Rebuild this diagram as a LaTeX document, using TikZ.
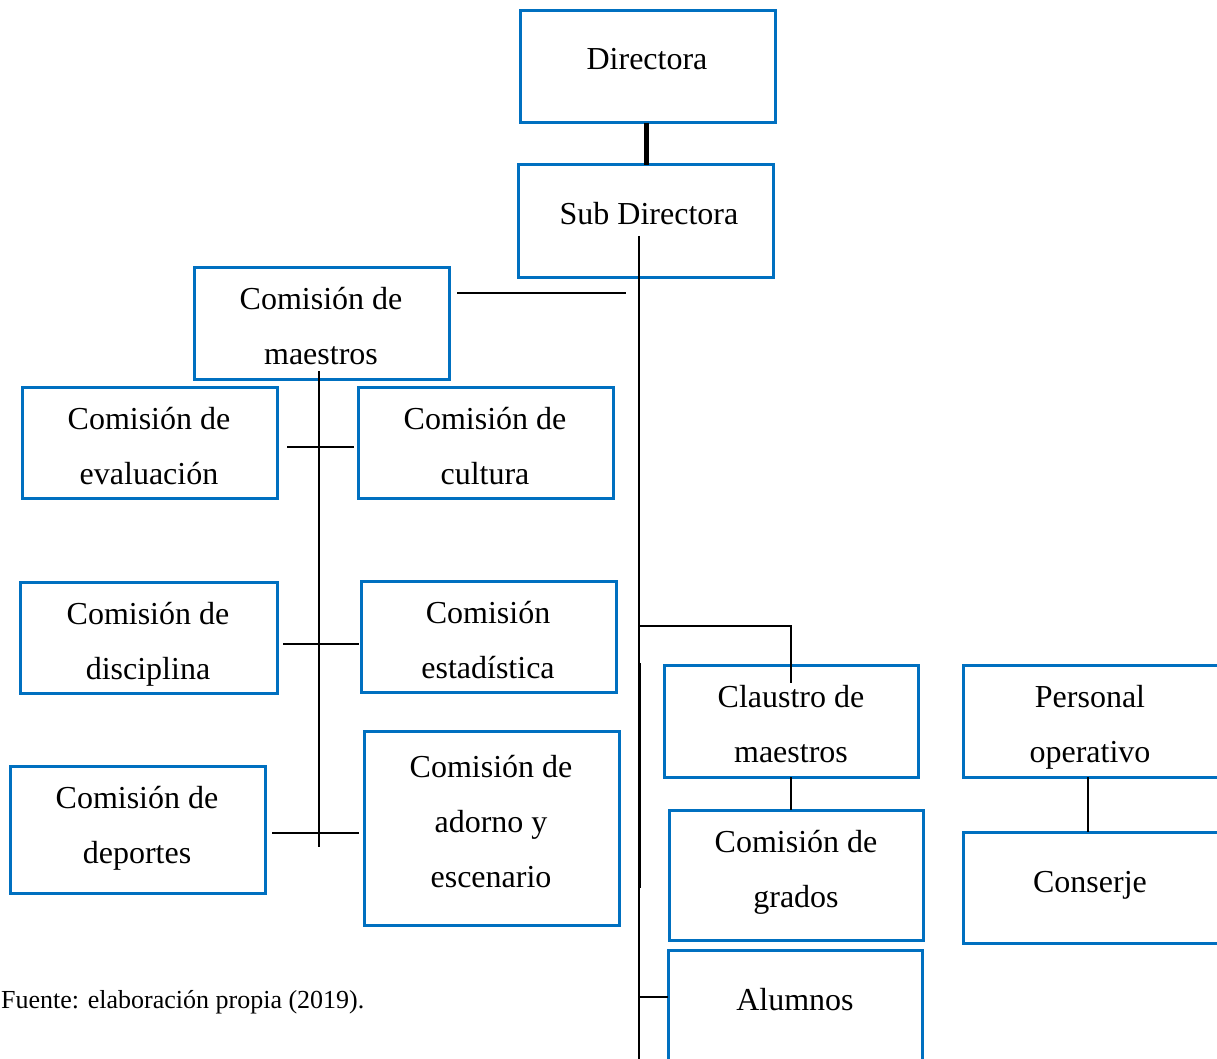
\documentclass[tikz,border=0pt]{standalone}
\usepackage{fontspec}
\setmainfont{Liberation Serif}
\definecolor{boxblue}{RGB}{0,112,192}
\begin{document}
\begin{tikzpicture}[x=1pt,y=-1pt,
  box/.style={draw=boxblue,line width=3pt,inner sep=0pt,rectangle},
  txt/.style={align=center,inner sep=0pt,font=\fontsize{32}{55}\selectfont},
  conn/.style={line width=1.1pt,black}]
\useasboundingbox (0,0) rectangle (1217,1059);
% boxes
\node[box,minimum width=255pt,minimum height=112pt] (dir) at (647.5,67) {};
\node[box,minimum width=255pt,minimum height=112pt] (sub) at (645.5,221) {};
\node[box,minimum width=255pt,minimum height=112pt] (mae) at (321.5,323) {};
\node[box,minimum width=255pt,minimum height=111pt] (eva) at (149.5,442.5) {};
\node[box,minimum width=255pt,minimum height=111pt] (cul) at (485.5,442.5) {};
\node[box,minimum width=257pt,minimum height=111pt] (dis) at (148.5,637.5) {};
\node[box,minimum width=255pt,minimum height=111pt] (est) at (488.5,636.5) {};
\node[box,minimum width=255pt,minimum height=127pt] (dep) at (137.5,829.5) {};
\node[box,minimum width=255pt,minimum height=194pt] (ado) at (491.5,828) {};
\node[box,minimum width=254pt,minimum height=112pt] (cla) at (791,721) {};
\node[box,minimum width=254pt,minimum height=130pt] (gra) at (796,875) {};
\node[box,minimum width=254pt,minimum height=120pt] (alu) at (795,1010) {};
\node[box,minimum width=255pt,minimum height=112pt] (per) at (1090.5,721) {};
\node[box,minimum width=255pt,minimum height=111pt] (con) at (1090.5,887.5) {};
% texts
\node[txt] (dirT) at (647,59) {Directora};
\node[txt] (subT) at (649,214) {Sub Directora};
\node[txt] (maeT) at (321,326.5) {Comisión de\\maestros};
\node[txt] (evaT) at (149,446.5) {Comisión de\\evaluación};
\node[txt] (culT) at (485,446) {Comisión de\\cultura};
\node[txt] (disT) at (148,644.5) {Comisión de\\disciplina};
\node[txt] (estT) at (488,640.5) {Comisión\\estadística};
\node[txt] (depT) at (137,828) {Comisión de\\deportes};
\node[txt] (adoT) at (491,821.5) {Comisión de\\adorno y\\escenario};
\node[txt] (claT) at (791,724) {Claustro de\\maestros};
\node[txt] (graT) at (796,872) {Comisión de\\grados};
\node[txt] (aluT) at (795,1000) {Alumnos};
\node[txt] (perT) at (1090,727) {Personal\\operativo};
\node[txt] (conT) at (1090,885) {Conserje};
\node[anchor=base west,inner sep=0pt,font=\fontsize{26}{30}\selectfont] (cap) at (1,1008) {Fuente: elaboración propia (2019).};
% connector points
\coordinate (d1) at (646,123);
\coordinate (d2) at (646,165);
\coordinate (s1) at (639,236);
\coordinate (s2) at (639,1059);
\coordinate (t1) at (639.5,663);
\coordinate (t2) at (639.5,888);
\coordinate (m1) at (457,293);
\coordinate (m2) at (626,293);
\coordinate (c1) at (639,626);
\coordinate (c2) at (791,683);
\coordinate (g1) at (791,777);
\coordinate (g2) at (791,810);
\coordinate (a1) at (639,997);
\coordinate (a2) at (668,997);
\coordinate (p1) at (1088,777);
\coordinate (p2) at (1088,832);
\coordinate (v1) at (319,371);
\coordinate (v2) at (319,847);
\coordinate (h1a) at (287,447);
\coordinate (h1b) at (354,447);
\coordinate (h2a) at (283,644);
\coordinate (h2b) at (359,644);
\coordinate (h3a) at (272,833);
\coordinate (h3b) at (359,833);
% connectors
\draw[line width=5pt] (d1) -- (d2);
\draw[conn] (s1) -- (s2);
\draw[line width=2pt] (t1) -- (t2);
\draw[conn] (m1) -- (m2);
\draw[conn] (c1) -| (c2);
\draw[conn] (g1) -- (g2);
\draw[conn] (a1) -- (a2);
\draw[conn] (p1) -- (p2);
\draw[conn] (v1) -- (v2);
\draw[conn] (h1a) -- (h1b);
\draw[conn] (h2a) -- (h2b);
\draw[conn] (h3a) -- (h3b);
\end{tikzpicture}
\end{document}
